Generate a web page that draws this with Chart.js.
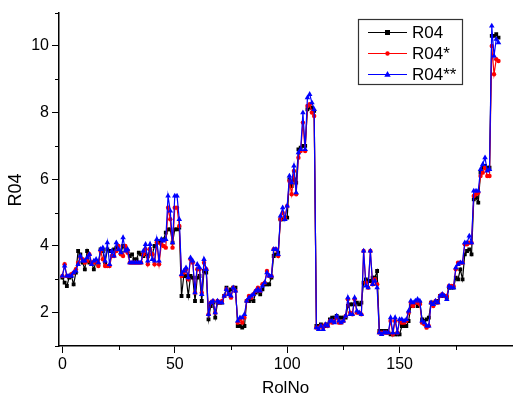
<!DOCTYPE html>
<html>
<head>
<meta charset="utf-8">
<script src="https://cdn.jsdelivr.net/npm/chart.js@4.4.1/dist/chart.umd.min.js"></script>
<style>
  body { margin: 0; background: #fff; }
  #wrap { width: 519px; height: 403px; }
</style>
</head>
<body>
<div id="wrap"><canvas id="myChart" width="519" height="403"></canvas></div>
<script>
// values, one per RolNo
const r04 = [
  3.05, 2.9, 2.8, 3.05, 3.1, 2.85, 3.2, 3.85, 3.75, 3.5,
  3.3, 3.85, 3.5, 3.5, 3.3, 3.55, 3.45, 3.9, 3.85, 3.5,
  3.9, 3.85, 3.85, 3.9, 3.95, 3.9, 3.8, 4.0, 3.95, 3.85,
  3.7, 3.75, 3.6, 3.6, 3.8, 3.75, 3.7, 3.75, 3.7, 3.9,
  3.75, 4.0, 4.15, 4.1, 4.15, 4.2, 4.4, 4.5, 4.5, 4.1,
  4.5, 4.5, 4.55, 2.5, 3.1, 3.1, 2.5, 3.1, 3.05, 2.35,
  3.05, 3.1, 2.35, 3.25, 3.2, 1.8, 2.2, 2.3, 1.85, 2.3,
  2.3, 2.3, 2.5, 2.75, 2.6, 2.7, 2.75, 2.75, 1.6, 1.6,
  1.55, 1.6, 2.35, 2.35, 2.4, 2.35, 2.6, 2.65, 2.55, 2.7,
  2.85, 2.85, 2.85, 3.05, 3.7, 3.75, 3.8, 4.8, 4.8, 4.85,
  4.85, 6.0, 5.8, 6.0, 5.9, 6.9, 6.95, 7.0, 7.0, 8.1,
  8.15, 8.15, 8.05, 1.6, 1.6, 1.65, 1.6, 1.6, 1.65, 1.8,
  1.85, 1.85, 1.9, 1.85, 1.85, 1.85, 1.85, 2.2, 2.25, 2.25,
  2.25, 2.3, 2.25, 2.3, 2.9, 3.0, 2.95, 2.95, 3.05, 3.05,
  3.25, 1.45, 1.45, 1.45, 1.45, 1.4, 1.35, 1.35, 1.35, 1.35,
  1.35, 1.6, 1.6, 1.6, 1.75, 2.2, 2.2, 2.3, 2.2, 2.3,
  1.8, 1.75, 1.8, 1.85, 2.3, 2.3, 2.3, 2.35, 2.5, 2.5,
  2.5, 2.45, 2.75, 2.75, 2.75, 3.05, 3.0, 3.3, 3.0, 3.75,
  3.85, 3.9, 3.75, 5.4, 5.45, 5.3, 6.2, 6.35, 6.4, 6.35,
  6.35, 10.3, 10.3, 10.35, 10.25
];

const r04Star = [
  3.1, 3.45, 3.1, 3.1, 3.15, 3.2, 3.3, 3.5, 3.65, 3.6,
  3.5, 3.55, 3.75, 3.5, 3.5, 3.55, 3.4, 3.85, 3.6, 3.4,
  3.4, 3.4, 3.7, 3.7, 3.85, 4.0, 3.75, 3.7, 4.0, 3.8,
  3.5, 3.5, 3.5, 3.5, 3.5, 3.5, 3.75, 3.9, 3.45, 3.9,
  3.75, 3.45, 4.1, 3.45, 4.05, 4.0, 3.95, 5.15, 4.8, 3.95,
  5.15, 5.15, 4.6, 3.1, 3.2, 3.3, 3.0, 3.6, 3.5, 2.6,
  3.3, 3.3, 2.6, 3.5, 3.3, 1.95, 2.3, 2.35, 2.0, 2.35,
  2.3, 2.35, 2.5, 2.7, 2.55, 2.45, 2.75, 2.65, 1.7, 1.8,
  1.7, 1.85, 2.35, 2.5, 2.45, 2.55, 2.65, 2.75, 2.65, 2.85,
  2.9, 3.25, 3.1, 3.1, 3.9, 3.9, 3.7, 4.8, 5.0, 4.85,
  5.2, 5.95, 5.55, 6.25, 5.55, 6.65, 6.85, 7.7, 6.85, 8.2,
  8.25, 8.0, 7.9, 1.55, 1.55, 1.6, 1.55, 1.65, 1.6, 1.75,
  1.7, 1.75, 1.85, 1.7, 1.7, 1.75, 1.9, 2.4, 2.0, 1.95,
  2.4, 2.0, 2.0, 1.95, 3.85, 2.9, 2.75, 3.85, 2.85, 3.0,
  2.85, 1.4, 1.4, 1.4, 1.4, 1.4, 1.75, 1.35, 1.75, 1.4,
  1.75, 1.7, 1.7, 1.75, 2.0, 2.3, 2.2, 2.3, 2.3, 2.25,
  1.7, 1.65, 1.55, 1.6, 2.3, 2.2, 2.35, 2.3, 2.5, 2.55,
  2.5, 2.5, 2.8, 2.8, 2.8, 3.3, 3.5, 3.5, 3.5, 4.05,
  4.05, 4.1, 4.1, 5.5, 5.55, 5.6, 6.1, 6.2, 6.35, 6.1,
  6.1, 10.0, 9.15, 9.6, 9.55
];

const r04StarStar = [
  3.1, 3.4, 3.1, 3.1, 3.1, 3.2, 3.25, 3.45, 3.7, 3.55,
  3.55, 3.65, 3.75, 3.45, 3.55, 3.6, 3.5, 3.9, 3.95, 3.55,
  4.1, 3.45, 3.85, 3.7, 4.1, 3.9, 3.8, 4.25, 3.85, 3.9,
  3.5, 3.5, 3.5, 3.5, 3.5, 3.5, 3.85, 4.05, 3.55, 4.05,
  3.6, 3.55, 4.2, 3.55, 4.2, 4.15, 4.2, 5.5, 5.05, 4.1,
  5.5, 5.5, 4.8, 3.15, 3.25, 3.35, 3.05, 3.65, 3.55, 2.6,
  3.45, 3.35, 2.55, 3.6, 3.3, 1.95, 2.3, 2.35, 2.0, 2.35,
  2.3, 2.3, 2.5, 2.7, 2.55, 2.5, 2.75, 2.65, 1.75, 1.85,
  1.85, 1.95, 2.35, 2.45, 2.5, 2.55, 2.65, 2.7, 2.65, 2.8,
  2.9, 3.2, 3.1, 3.1, 3.9, 3.9, 3.75, 4.9, 5.15, 4.8,
  5.2, 6.1, 5.9, 6.4, 5.6, 6.8, 6.9, 8.0, 6.9, 8.45,
  8.55, 8.3, 8.1, 1.55, 1.5, 1.6, 1.5, 1.65, 1.6, 1.75,
  1.75, 1.7, 1.9, 1.75, 1.7, 1.75, 1.9, 2.45, 1.95, 1.95,
  2.45, 2.05, 2.0, 1.95, 3.85, 2.8, 2.75, 3.85, 2.85, 2.95,
  2.75, 1.4, 1.35, 1.4, 1.4, 1.4, 1.85, 1.4, 1.85, 1.4,
  1.8, 1.8, 1.75, 1.8, 2.05, 2.35, 2.3, 2.35, 2.4, 2.35,
  1.75, 1.7, 1.6, 1.6, 2.3, 2.25, 2.35, 2.3, 2.5, 2.55,
  2.5, 2.4, 2.8, 2.75, 2.75, 3.35, 3.45, 3.5, 3.5, 4.1,
  4.1, 4.3, 4.1, 5.65, 5.65, 5.65, 6.3, 6.45, 6.65, 6.25,
  6.3, 10.6, 9.7, 10.2, 10.1
];

const rolNo = r04.map((v, i) => i);
const xTicks = [0, 50, 100, 150];
const yTicks = [2, 4, 6, 8, 10];
const xMinor = [25, 75, 125, 175];
const yMinor = [1, 3, 5, 7, 9, 11];

const seriesNames = ['R04', 'R04*', 'R04**'];
const seriesColors = ['#000000', '#ff0000', '#0000ff'];
const seriesMarks = ['rect', 'circle', 'triangle'];

const FONT = '"Liberation Sans", Arial, sans-serif';

function pts(vals) {
  return vals.map((v, i) => ({ x: rolNo[i], y: v }));
}

// short outward minor ticks, like Origin draws them, plus the y title
const minorTicks = {
  id: 'minorTicks',
  afterDraw(chart) {
    const c = chart.ctx;
    const xs = chart.scales.x, ys = chart.scales.y;
    const a = chart.chartArea;
    c.save();
    c.strokeStyle = '#000';
    c.lineWidth = 1;
    c.beginPath();
    xMinor.forEach(v => {
      const px = Math.round(xs.getPixelForValue(v)) + 0.5;
      c.moveTo(px, a.bottom);
      c.lineTo(px, a.bottom + 4);
    });
    yMinor.forEach(v => {
      const py = Math.round(ys.getPixelForValue(v)) + 0.5;
      c.moveTo(a.left, py);
      c.lineTo(a.left - 4, py);
    });
    c.stroke();

    // Origin put the y title a bit below the middle
    c.translate(16, 190);
    c.rotate(-Math.PI / 2);
    c.fillStyle = '#000';
    c.font = '18px ' + FONT;
    c.textAlign = 'center';
    c.textBaseline = 'middle';
    c.fillText('R04', 0, 0);
    c.restore();
  }
};

function mark(c, style, x, y, color) {
  c.fillStyle = color;
  c.beginPath();
  if (style === 'rect') {
    c.rect(x - 2.5, y - 2.5, 5, 5);
  } else if (style === 'circle') {
    c.arc(x, y, 2.2, 0, Math.PI * 2);
  } else {
    c.moveTo(x, y - 3.5);
    c.lineTo(x + 3.2, y + 2.3);
    c.lineTo(x - 3.2, y + 2.3);
    c.closePath();
  }
  c.fill();
}

// boxed legend at the upper right
const boxLegend = {
  id: 'boxLegend',
  afterDraw(chart) {
    const c = chart.ctx;
    c.save();
    c.fillStyle = '#fff';
    c.fillRect(358, 19, 104, 65);
    c.strokeStyle = '#333';
    c.lineWidth = 1.2;
    c.strokeRect(358.5, 19.5, 104, 65);
    c.font = '17px ' + FONT;
    c.textBaseline = 'middle';
    c.textAlign = 'left';
    seriesNames.forEach((name, i) => {
      const y = 32 + i * 21;
      c.strokeStyle = seriesColors[i];
      c.lineWidth = 1;
      c.beginPath();
      c.moveTo(368, y + 0.5);
      c.lineTo(407, y + 0.5);
      c.stroke();
      mark(c, seriesMarks[i], 387.5, y + 0.5, seriesColors[i]);
      c.fillStyle = '#000';
      c.fillText(name, 412, y + 1);
    });
    c.restore();
  }
};

const datasets = [
  { data: r04, order: 3, radius: 2.7 },
  { data: r04Star, order: 2, radius: 2.2 },
  { data: r04StarStar, order: 1, radius: 3.2 }
].map((d, i) => ({
  label: seriesNames[i],
  data: pts(d.data),
  order: d.order,
  borderColor: seriesColors[i],
  backgroundColor: seriesColors[i],
  borderWidth: 1.2,
  pointStyle: seriesMarks[i],
  pointRadius: d.radius,
  pointBorderWidth: 0,
  pointBackgroundColor: seriesColors[i],
  tension: 0
}));

const ctx = document.getElementById('myChart');
new Chart(ctx, {
  type: 'line',
  data: { datasets },
  options: {
    responsive: false,
    animation: false,
    devicePixelRatio: 1,
    layout: { padding: { top: 10, right: 7, left: 0, bottom: 0 } },
    plugins: {
      legend: { display: false },
      tooltip: { enabled: false }
    },
    scales: {
      x: {
        type: 'linear',
        min: -1.5,
        max: 200,
        afterBuildTicks(s) { s.ticks = xTicks.map(v => ({ value: v })); },
        afterFit(s) { s.height = 57; },
        grid: { drawOnChartArea: false, drawTicks: true, tickLength: 7, tickColor: '#000' },
        border: { color: '#000', width: 1.5 },
        ticks: { color: '#000', padding: 2, maxRotation: 0, font: { family: FONT, size: 16 } },
        title: {
          display: true, text: 'RolNo', color: '#000',
          font: { family: FONT, size: 17 }, padding: { top: 2, bottom: 4 }
        }
      },
      y: {
        min: 1,
        max: 11,
        afterBuildTicks(s) { s.ticks = yTicks.map(v => ({ value: v })); },
        afterFit(s) { s.width = 59; },
        grid: { drawOnChartArea: false, drawTicks: true, tickLength: 7, tickColor: '#000' },
        border: { color: '#000', width: 1.5 },
        ticks: { color: '#000', padding: 3, font: { family: FONT, size: 16 } },
        title: { display: false }
      }
    }
  },
  plugins: [minorTicks, boxLegend]
});
</script>
</body>
</html>
